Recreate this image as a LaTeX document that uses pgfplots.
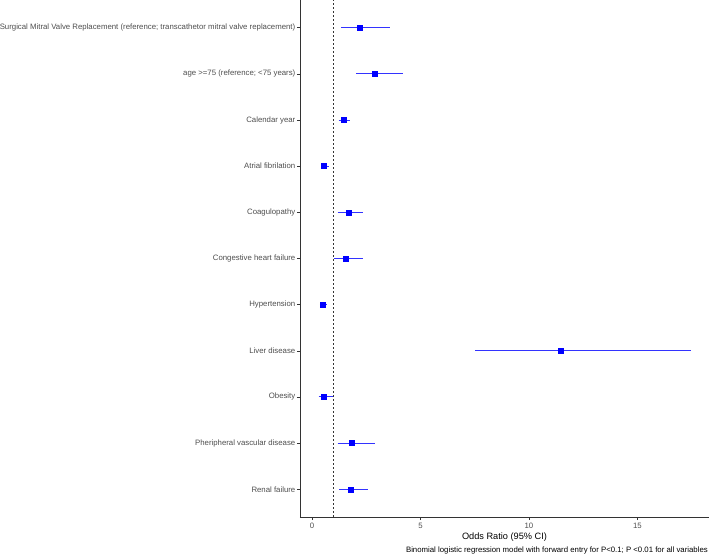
\documentclass[border=0pt]{standalone}
\usepackage{fontspec}
\setmainfont{Liberation Sans}
\usepackage{pgfplots}
\pgfplotsset{compat=1.18}
\definecolor{txtgray}{HTML}{4D4D4D}
\definecolor{axgray}{HTML}{333333}
\definecolor{ciblue}{HTML}{3333FF}

\begin{document}
\begin{tikzpicture}
\begin{axis}[
  at={(0,0)}, anchor=south west,
  scale only axis, width=409bp, height=517bp,
  xmin=-0.55, xmax=18.3, ymin=0.4, ymax=11.6,
  axis x line*=bottom, axis y line*=left,
  axis line style={axgray, line width=0.8bp, -},
  tick align=outside,
  major tick length=3bp,
  tick style={axgray, line width=0.6bp},
  xtick={0,5,10,15},
  ytick={1,...,11},
  yticklabels={Renal failure,Pheripheral vascular disease,Obesity,Liver disease,Hypertension,Congestive heart failure,Coagulopathy,Atrial fibrilation,Calendar year,{age >=75 (reference; <75 years)},{Surgical Mitral Valve Replacement (reference; transcathetor mitral valve replacement)}},
  /pgf/number format/assume math mode=true,
  ticklabel style={font=\fontsize{7.8bp}{9bp}\selectfont, text=txtgray},
  yticklabel style={inner sep=1.5bp},
  xticklabel style={inner sep=2bp, yshift=-1bp},
  xlabel={Odds Ratio (95\% CI)},
  xlabel style={font=\fontsize{9.2bp}{11bp}\selectfont, text=black, at={(axis description cs:0.5,0)}, anchor=center, yshift=-20bp},
  clip=false,
  ci/.style={ciblue, line width=1bp, mark=none, forget plot},
]
\addplot[axgray, line width=0.7bp, dash pattern=on 2bp off 2bp] coordinates {(1,0.4) (1,11.6)};
% 95% CI (lower, upper)
\addplot[ci] coordinates {(1.25,1) (2.57,1)};   % Renal failure
\addplot[ci] coordinates {(1.18,2) (2.89,2)};   % PVD
\addplot[ci] coordinates {(0.31,3) (0.98,3)};   % Obesity
\addplot[ci] coordinates {(7.53,4) (17.45,4)};  % Liver disease
\addplot[ci] coordinates {(0.37,5) (0.68,5)};   % Hypertension
\addplot[ci] coordinates {(1.03,6) (2.35,6)};   % CHF
\addplot[ci] coordinates {(1.18,7) (2.35,7)};   % Coagulopathy
\addplot[ci] coordinates {(0.45,8) (0.80,8)};   % Atrial fibrilation
\addplot[ci] coordinates {(1.23,9) (1.75,9)};   % Calendar year
\addplot[ci] coordinates {(2.05,10) (4.21,10)}; % age
\addplot[ci] coordinates {(1.35,11) (3.61,11)}; % SMVR
% odds ratios
\addplot[only marks, mark=square*, mark size=2.5bp, mark options={draw=blue, fill=blue}] coordinates {
(1.78,1) (1.84,2) (0.54,3) (11.46,4) (0.48,5) (1.57,6) (1.68,7) (0.55,8) (1.45,9) (2.90,10) (2.20,11)};
\end{axis}
\node[anchor=east, font=\fontsize{7.8bp}{9bp}\selectfont, text=black, inner sep=0pt] at (408bp,-33bp) {Binomial logistic regression model with forward entry for P<0.1; P <0.01 for all variables};
\pgfresetboundingbox
\path (-300bp,-37bp) rectangle (409bp,517bp);
\end{tikzpicture}
\end{document}
